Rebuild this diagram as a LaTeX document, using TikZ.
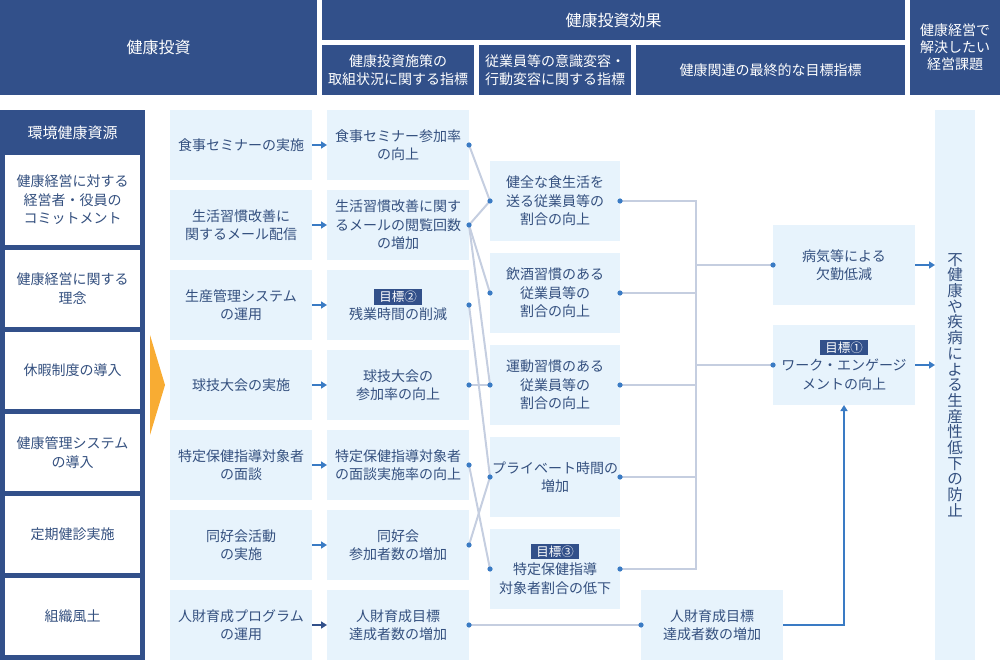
\documentclass[tikz,border=0pt]{standalone}
\usepackage{fontspec}
\setmainfont{Noto Sans CJK JP}
\usetikzlibrary{arrows.meta,positioning}
\definecolor{navy}{HTML}{32508A}
\definecolor{boxbg}{HTML}{E7F3FC}
\definecolor{boxtxt}{HTML}{34507F}
\definecolor{linkgray}{HTML}{C5CEE0}
\definecolor{dotblue}{HTML}{3A7BC4}
\definecolor{wedge}{HTML}{F8AC33}
\newcommand{\goaltag}[1]{{\setlength{\fboxsep}{2pt}\colorbox{navy}{\hspace{3pt}\color{white}\fontsize{12.5}{12.5}\selectfont #1\hspace{3pt}}}}
\begin{document}
\begin{tikzpicture}[x=1pt,y=-1pt,node distance=10pt and 15pt,every node/.style={inner sep=1pt,outer sep=0pt},
head/.style={fill=navy,text=white,align=center,anchor=north west,font=\fontsize{14}{17.5}\selectfont},
res/.style={fill=white,text=boxtxt,align=center,minimum width=135pt,minimum height=77pt,font=\fontsize{14}{18.5}\selectfont},
box/.style={fill=boxbg,text=boxtxt,align=center,minimum width=142pt,minimum height=70pt,font=\fontsize{14}{18.5}\selectfont},
midbox/.style={box,minimum width=130pt,minimum height=80pt},
link/.style={linkgray,line width=2pt},
dot/.style={fill=dotblue},
arr/.style={dotblue,line width=2pt,-{Triangle[length=6pt,width=7pt]}}]
\useasboundingbox (0,0) rectangle (1000,660);
% headers
\node[head,minimum width=317pt,minimum height=95pt,font=\fontsize{16}{18}\selectfont] (hinv) at (0,0) {健康投資};
\node[head,minimum width=583pt,minimum height=40pt,font=\fontsize{16}{18}\selectfont] (heff) at (322,0) {健康投資効果};
\node[head,minimum width=152pt,minimum height=50pt] (hsub1) at (322,45) {健康投資施策の\\取組状況に関する指標};
\node[head,minimum width=152pt,minimum height=50pt] (hsub2) at (479,45) {従業員等の意識変容・\\行動変容に関する指標};
\node[head,minimum width=269pt,minimum height=50pt] (hsub3) at (636,45) {健康関連の最終的な目標指標};
\node[head,minimum width=90pt,minimum height=95pt,font=\fontsize{14}{17}\selectfont] (hgoal) at (910,0) {健康経営で\\解決したい\\経営課題};
% resources
\fill[navy] (0,110) rectangle (145,660);
\node[text=white,font=\fontsize{15}{17}\selectfont] (rhead) at (72.5,132.5) {環境健康資源};
\node[res,minimum height=90pt,anchor=north west] (r1) at (5,155) {健康経営に対する\\経営者・役員の\\コミットメント};
\node[res,below=5pt of r1] (r2) {健康経営に関する\\理念};
\node[res,below=5pt of r2] (r3) {休暇制度の導入};
\node[res,below=5pt of r3] (r4) {健康管理システム\\の導入};
\node[res,below=5pt of r4] (r5) {定期健診実施};
\node[res,below=5pt of r5] (r6) {組織風土};
\fill[wedge] (150,335) -- (165,385) -- (150,435) -- cycle;
% measures
\node[box,anchor=north west] (m1) at (170,110) {食事セミナーの実施};
\node[box,below=of m1] (m2) {生活習慣改善に\\関するメール配信};
\node[box,below=of m2] (m3) {生産管理システム\\の運用};
\node[box,below=of m3] (m4) {球技大会の実施};
\node[box,below=of m4] (m5) {特定保健指導対象者\\の面談};
\node[box,below=of m5] (m6) {同好会活動\\の実施};
\node[box,below=of m6] (m7) {人財育成プログラム\\の運用};
\node[box,right=of m1] (k1) {食事セミナー参加率\\の向上};
\node[box,right=of m2] (k2) {生活習慣改善に関す\\るメールの閲覧回数\\の増加};
\node[box,right=of m3] (k3) {\goaltag{目標②}\\残業時間の削減};
\node[box,right=of m4] (k4) {球技大会の\\参加率の向上};
\node[box,right=of m5] (k5) {特定保健指導対象者\\の面談実施率の向上};
\node[box,right=of m6] (k6) {同好会\\参加者数の増加};
\node[box,right=of m7] (k7) {人財育成目標\\達成者数の増加};
% behaviour
\node[midbox,anchor=north west] (b1) at (490,161) {健全な食生活を\\送る従業員等の\\割合の向上};
\node[midbox,below=12pt of b1] (b2) {飲酒習慣のある\\従業員等の\\割合の向上};
\node[midbox,below=12pt of b2] (b3) {運動習慣のある\\従業員等の\\割合の向上};
\node[midbox,below=12pt of b3] (b4) {プライベート時間の\\増加};
\node[midbox,below=12pt of b4] (b5) {\goaltag{目標③}\\特定保健指導\\対象者割合の低下};
% final
\node[box,anchor=north west] (f3) at (641,590) {人財育成目標\\達成者数の増加};
\node[box,minimum height=80pt,anchor=north west] (f1) at (773,225) {病気等による\\欠勤低減};
\node[box,minimum height=80pt,below=20pt of f1] (f2) {\goaltag{目標①}\\ワーク・エンゲージ\\メントの向上};
\node[fill=boxbg,text=boxtxt,align=center,anchor=north west,minimum width=40pt,minimum height=550pt,font=\fontsize{15.5}{15.7}\selectfont] (goal) at (935,110) {不\\健\\康\\や\\疾\\病\\に\\よ\\る\\生\\産\\性\\低\\下\\の\\防\\止};
\coordinate (bus) at (696,0);
% links
\draw[arr](m1)--(k1);\draw[arr](m2)--(k2);\draw[arr](m3)--(k3);\draw[arr](m4)--(k4);\draw[arr](m5)--(k5);\draw[arr](m6)--(k6);\draw[arr,navy](m7)--(k7);
\draw[link](k1.east)--(b1.west);\draw[link](k2.east)--(b1.west);\draw[link](k2.east)--(b2.west);\draw[link](k2.east)--(b3.west);
\draw[link](k3.east)--(b4.west);\draw[link](k4.east)--(b3.west);\draw[link](k5.east)--(b5.west);\draw[link](k6.east)--(b4.west);
\draw[link](k7.east)--(f3.west);
\foreach \b in {b1,b2,b3,b4,b5}{\draw[link](\b.east)--(\b.east -| bus);}
\draw[link,line cap=rect](b1.east -| bus)--(b5.east -| bus);
\draw[link](f1.west -| bus)--(f1.west);\draw[link](f2.west -| bus)--(f2.west);
\draw[arr](f3.east)-|(f2.south);
\draw[arr](f1.east)--(f1.east -| goal.west);\draw[arr](f2.east)--(f2.east -| goal.west);
\foreach \k in {k1,k2,k3,k4,k5,k6,k7}{\fill[dot](\k.east) circle (2.6);}
\foreach \b in {b1,b2,b3,b4,b5}{\fill[dot](\b.west) circle (2.6);\fill[dot](\b.east) circle (2.6);}
\fill[dot](f1.west) circle (2.6);\fill[dot](f2.west) circle (2.6);\fill[dot](f3.west) circle (2.6);
\end{tikzpicture}
\end{document}
